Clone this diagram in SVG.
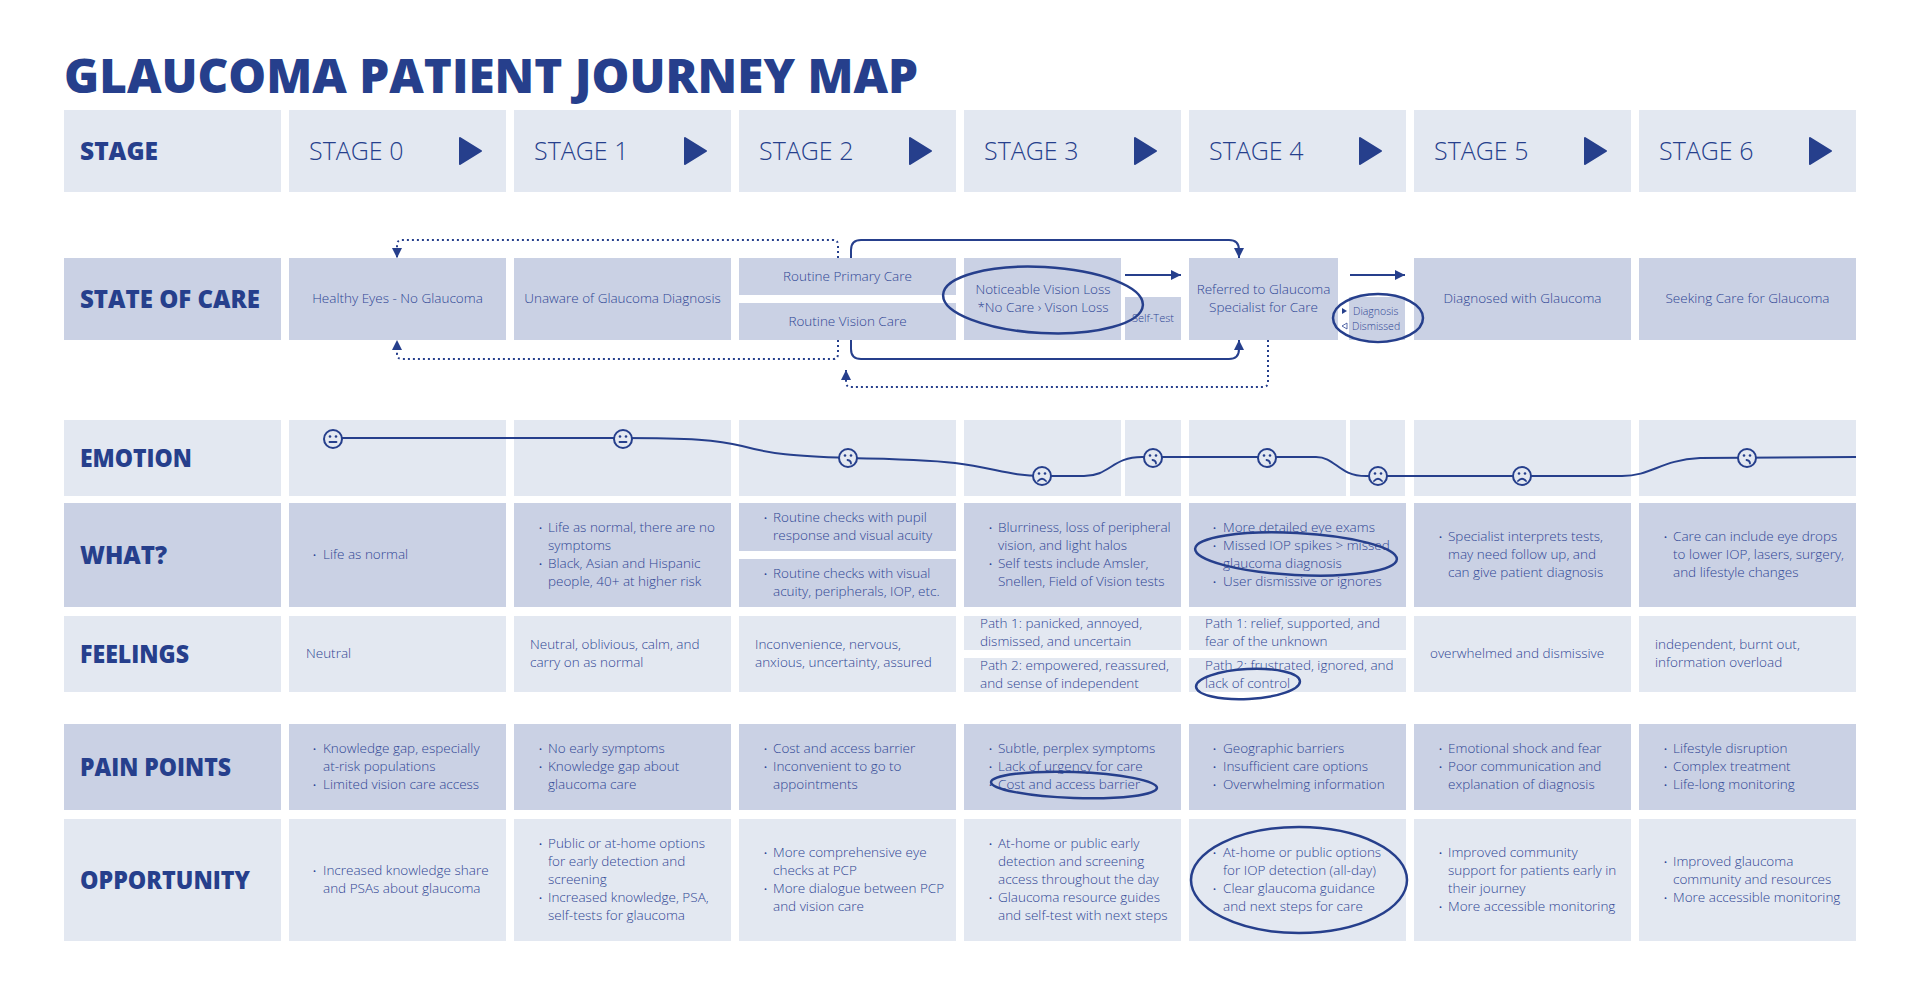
<svg xmlns="http://www.w3.org/2000/svg" width="1920" height="981" viewBox="0 0 1920 981">
<defs>
<style>
.lt{fill:#e3e8f1}
.dk{fill:#cad1e4}
.title{font-family:'Open Sans','Liberation Sans',sans-serif;font-weight:800;font-size:48px;fill:#263f8c}
.hd{font-family:'Open Sans','Liberation Sans',sans-serif;font-weight:800;font-size:24px;fill:#263f8c}
.st{font-family:'Open Sans','Liberation Sans',sans-serif;font-weight:300;font-size:25px;fill:#263f8c}
.tx{font-family:'Open Sans','Liberation Sans',sans-serif;font-weight:300;font-size:13.5px;fill:#2f4694}
.c{text-anchor:middle}
.sm{font-size:11px}
.xs{font-size:10.5px}
.bu{font-family:'Open Sans','Liberation Sans',sans-serif;font-size:8px;fill:#2f4694}
.tri{fill:#263f8c;stroke:#263f8c;stroke-width:2;stroke-linejoin:round}
.ln{fill:none;stroke:#263f8c;stroke-width:2}
.dot{stroke-dasharray:2 3}
.oval{fill:none;stroke:#263f8c;stroke-width:2.5}
.face circle.h{fill:#e3e8f1;stroke:#263f8c;stroke-width:2}
.face circle.e{fill:#263f8c}
.face path{fill:none;stroke:#263f8c;stroke-width:1.8;stroke-linecap:round}
</style>
<marker id="ah" viewBox="0 0 10 10" refX="10" refY="5" markerWidth="10" markerHeight="11" markerUnits="userSpaceOnUse" orient="auto">
<path d="M0 0 L10 5 L0 10 Z" fill="#263f8c"/>
</marker>
<g id="fN" class="face"><circle class="h" r="9"/><circle class="e" cx="-3" cy="-2.5" r="1.3"/><circle class="e" cx="3" cy="-2.5" r="1.3"/><path d="M-3.5 3 H3.5"/></g>
<g id="fS" class="face"><circle class="h" r="9"/><circle class="e" cx="-3" cy="-2.5" r="1.3"/><circle class="e" cx="3" cy="-2.5" r="1.3"/><path d="M-4 5 Q0 0.5 4 5"/></g>
<g id="fC" class="face"><circle class="h" r="9"/><circle class="e" cx="-3" cy="-2.5" r="1.3"/><circle class="e" cx="3" cy="-2.5" r="1.3"/><path d="M-0.5 2 Q3 2.5 3 5.5"/></g>
</defs>
<rect width="1920" height="981" fill="#ffffff"/>

<text class="title" x="64" y="93" textLength="854" lengthAdjust="spacingAndGlyphs">GLAUCOMA PATIENT JOURNEY MAP</text>

<!-- STAGE ROW -->
<g id="row-stage">
<rect class="lt" x="64" y="110" width="217" height="82"/>
<text class="hd" x="80" y="159.5" textLength="78" lengthAdjust="spacingAndGlyphs">STAGE</text>
</g>
<g id="stage0"><rect class="lt" x="289" y="110" width="217" height="82"/><text class="st" x="309" y="160">STAGE 0</text><path class="tri" d="M460 138 L481 151 L460 164 Z"/></g>
<g id="stage1"><rect class="lt" x="514" y="110" width="217" height="82"/><text class="st" x="534" y="160">STAGE 1</text><path class="tri" d="M685 138 L706 151 L685 164 Z"/></g>
<g id="stage2"><rect class="lt" x="739" y="110" width="217" height="82"/><text class="st" x="759" y="160">STAGE 2</text><path class="tri" d="M910 138 L931 151 L910 164 Z"/></g>
<g id="stage3"><rect class="lt" x="964" y="110" width="217" height="82"/><text class="st" x="984" y="160">STAGE 3</text><path class="tri" d="M1135 138 L1156 151 L1135 164 Z"/></g>
<g id="stage4"><rect class="lt" x="1189" y="110" width="217" height="82"/><text class="st" x="1209" y="160">STAGE 4</text><path class="tri" d="M1360 138 L1381 151 L1360 164 Z"/></g>
<g id="stage5"><rect class="lt" x="1414" y="110" width="217" height="82"/><text class="st" x="1434" y="160">STAGE 5</text><path class="tri" d="M1585 138 L1606 151 L1585 164 Z"/></g>
<g id="stage6"><rect class="lt" x="1639" y="110" width="217" height="82"/><text class="st" x="1659" y="160">STAGE 6</text><path class="tri" d="M1810 138 L1831 151 L1810 164 Z"/></g>

<!-- STATE OF CARE ROW -->
<g id="row-care">
<rect class="dk" x="64" y="258" width="217" height="82"/>
<text class="hd" x="80" y="307.5" textLength="180" lengthAdjust="spacingAndGlyphs">STATE OF CARE</text>
</g>
<g id="care-healthy"><rect class="dk" x="289" y="258" width="217" height="82"/><text class="tx c" x="397.5" y="303">Healthy Eyes - No Glaucoma</text></g>
<g id="care-unaware"><rect class="dk" x="514" y="258" width="217" height="82"/><text class="tx c" x="622.5" y="303">Unaware of Glaucoma Diagnosis</text></g>
<g id="care-primary"><rect class="dk" x="739" y="258" width="217" height="37"/><text class="tx c" x="847.5" y="281">Routine Primary Care</text></g>
<g id="care-vision"><rect class="dk" x="739" y="303" width="217" height="37"/><text class="tx c" x="847.5" y="326">Routine Vision Care</text></g>
<g id="care-noticeable"><rect class="dk" x="964" y="258" width="157" height="82"/><text class="tx c" x="1043" y="294">Noticeable Vision Loss</text><text class="tx c" x="1043" y="312">*No Care › Vison Loss</text></g>
<g id="care-selftest"><rect class="dk" x="1125" y="297" width="56" height="43"/><text class="tx c sm" x="1153" y="322">Self-Test</text></g>
<g id="care-referred"><rect class="dk" x="1189" y="258" width="149" height="82"/><text class="tx c" x="1263.5" y="294">Referred to Glaucoma</text><text class="tx c" x="1263.5" y="312">Specialist for Care</text></g>
<g id="care-dismissed"><rect class="dk" x="1349" y="297" width="56" height="43"/>
<path d="M1342 308 L1347 311 L1342 314 Z" fill="#263f8c"/>
<path d="M1347 323 L1342 326 L1347 329 Z" fill="none" stroke="#2f4694" stroke-width="0.8"/>
<text class="tx xs" x="1353" y="314.5">Diagnosis</text><text class="tx xs" x="1352" y="329.5">Dismissed</text></g>
<g id="care-diagnosed"><rect class="dk" x="1414" y="258" width="217" height="82"/><text class="tx c" x="1522.5" y="303">Diagnosed with Glaucoma</text></g>
<g id="care-seeking"><rect class="dk" x="1639" y="258" width="217" height="82"/><text class="tx c" x="1747.5" y="303">Seeking Care for Glaucoma</text></g>

<!-- CONNECTORS -->
<g id="connectors">
<path class="ln" d="M851 258 V250 Q851 240 861 240 H1229 Q1239 240 1239 250 V258" marker-end="url(#ah)"/>
<path class="ln" d="M851 340 V349 Q851 359 861 359 H1229 Q1239 359 1239 349 V340" marker-end="url(#ah)"/>
<path class="ln dot" d="M838 258 V245 Q838 240 833 240 H402 Q397 240 397 245 V258" marker-end="url(#ah)"/>
<path class="ln dot" d="M838 340 V354 Q838 359 833 359 H402 Q397 359 397 354 V340" marker-end="url(#ah)"/>
<path class="ln dot" d="M1268 340 V382 Q1268 387 1263 387 H851 Q846 387 846 382 V370" marker-end="url(#ah)"/>
<path class="ln" d="M1125 275 H1181" marker-end="url(#ah)"/>
<path class="ln" d="M1350 275 H1405" marker-end="url(#ah)"/>
</g>

<!-- EMOTION ROW -->
<g id="row-emotion">
<rect class="lt" x="64" y="420" width="217" height="76"/>
<text class="hd" x="80" y="466.5" textLength="112" lengthAdjust="spacingAndGlyphs">EMOTION</text>
<rect class="lt" x="289" y="420" width="217" height="76"/>
<rect class="lt" x="514" y="420" width="217" height="76"/>
<rect class="lt" x="739" y="420" width="217" height="76"/>
<rect class="lt" x="964" y="420" width="157" height="76"/>
<rect class="lt" x="1125" y="420" width="56" height="76"/>
<rect class="lt" x="1189" y="420" width="157" height="76"/>
<rect class="lt" x="1350" y="420" width="55" height="76"/>
<rect class="lt" x="1414" y="420" width="217" height="76"/>
<rect class="lt" x="1639" y="420" width="217" height="76"/>
</g>
<g id="emotion-line">
<path class="ln" d="M333 438 L623 438 C690 438 718 440 742 446 C772 454 792 456 848 458 C900 459 930 460 955 463 C995 468 1010 476 1042 476 L1084 476 C1110 476 1112 457 1142 457 L1316 457 C1336 457 1338 476 1366 476 L1622 476 C1652 476 1660 460 1700 458 L1856 457"/>
<use href="#fN" x="333" y="439"/>
<use href="#fN" x="623" y="439"/>
<use href="#fC" x="848" y="458"/>
<use href="#fS" x="1042" y="476"/>
<use href="#fC" x="1153" y="458"/>
<use href="#fC" x="1267" y="458"/>
<use href="#fS" x="1378" y="476"/>
<use href="#fS" x="1522" y="476"/>
<use href="#fC" x="1747" y="458"/>
</g>

<!-- WHAT ROW -->
<g id="row-what">
<rect class="dk" x="64" y="503" width="217" height="104"/>
<text class="hd" x="80" y="563.5" textLength="87" lengthAdjust="spacingAndGlyphs">WHAT?</text>
</g>
<g id="what-0"><rect class="dk" x="289" y="503" width="217" height="104"/>
<text class="bu" x="313" y="558">•</text><text class="tx" x="323" y="559">Life as normal</text></g>
<g id="what-1"><rect class="dk" x="514" y="503" width="217" height="104"/>
<text class="bu" x="539" y="531">•</text><text class="tx" x="548" y="532">Life as normal, there are no</text>
<text class="tx" x="548" y="550">symptoms</text>
<text class="bu" x="539" y="567">•</text><text class="tx" x="548" y="568">Black, Asian and Hispanic</text>
<text class="tx" x="548" y="586">people, 40+ at higher risk</text></g>
<g id="what-2a"><rect class="dk" x="739" y="503" width="217" height="48"/>
<text class="bu" x="764" y="521">•</text><text class="tx" x="773" y="522">Routine checks with pupil</text>
<text class="tx" x="773" y="540">response and visual acuity</text></g>
<g id="what-2b"><rect class="dk" x="739" y="559" width="217" height="48"/>
<text class="bu" x="764" y="577">•</text><text class="tx" x="773" y="578">Routine checks with visual</text>
<text class="tx" x="773" y="596">acuity, peripherals, IOP, etc.</text></g>
<g id="what-3"><rect class="dk" x="964" y="503" width="217" height="104"/>
<text class="bu" x="989" y="531">•</text><text class="tx" x="998" y="532">Blurriness, loss of peripheral</text>
<text class="tx" x="998" y="550">vision, and light halos</text>
<text class="bu" x="989" y="567">•</text><text class="tx" x="998" y="568">Self tests include Amsler,</text>
<text class="tx" x="998" y="586">Snellen, Field of Vision tests</text></g>
<g id="what-4"><rect class="dk" x="1189" y="503" width="217" height="104"/>
<text class="bu" x="1213" y="531">•</text><text class="tx" x="1223" y="532">More detailed eye exams</text>
<text class="bu" x="1213" y="549">•</text><text class="tx" x="1223" y="550">Missed IOP spikes &gt; missed</text>
<text class="tx" x="1223" y="568">glaucoma diagnosis</text>
<text class="bu" x="1213" y="585">•</text><text class="tx" x="1223" y="586">User dismissive or ignores</text></g>
<g id="what-5"><rect class="dk" x="1414" y="503" width="217" height="104"/>
<text class="bu" x="1439" y="540">•</text><text class="tx" x="1448" y="541">Specialist interprets tests,</text>
<text class="tx" x="1448" y="559">may need follow up, and</text>
<text class="tx" x="1448" y="577">can give patient diagnosis</text></g>
<g id="what-6"><rect class="dk" x="1639" y="503" width="217" height="104"/>
<text class="bu" x="1664" y="540">•</text><text class="tx" x="1673" y="541">Care can include eye drops</text>
<text class="tx" x="1673" y="559">to lower IOP, lasers, surgery,</text>
<text class="tx" x="1673" y="577">and lifestyle changes</text></g>

<!-- FEELINGS ROW -->
<g id="row-feelings">
<rect class="lt" x="64" y="616" width="217" height="76"/>
<text class="hd" x="80" y="662.5" textLength="109" lengthAdjust="spacingAndGlyphs">FEELINGS</text>
</g>
<g id="feel-0"><rect class="lt" x="289" y="616" width="217" height="76"/><text class="tx" x="306" y="658">Neutral</text></g>
<g id="feel-1"><rect class="lt" x="514" y="616" width="217" height="76"/><text class="tx" x="530" y="649">Neutral, oblivious, calm, and</text><text class="tx" x="530" y="667">carry on as normal</text></g>
<g id="feel-2"><rect class="lt" x="739" y="616" width="217" height="76"/><text class="tx" x="755" y="649">Inconvenience, nervous,</text><text class="tx" x="755" y="667">anxious, uncertainty, assured</text></g>
<g id="feel-3a"><rect class="lt" x="964" y="616" width="217" height="34"/><text class="tx" x="980" y="628">Path 1: panicked, annoyed,</text><text class="tx" x="980" y="646">dismissed, and uncertain</text></g>
<g id="feel-3b"><rect class="lt" x="964" y="658" width="217" height="34"/><text class="tx" x="980" y="670">Path 2: empowered, reassured,</text><text class="tx" x="980" y="688">and sense of independent</text></g>
<g id="feel-4a"><rect class="lt" x="1189" y="616" width="217" height="34"/><text class="tx" x="1205" y="628">Path 1: relief, supported, and</text><text class="tx" x="1205" y="646">fear of the unknown</text></g>
<g id="feel-4b"><rect class="lt" x="1189" y="658" width="217" height="34"/><text class="tx" x="1205" y="670">Path 2: frustrated, ignored, and</text><text class="tx" x="1205" y="688">lack of control</text></g>
<g id="feel-5"><rect class="lt" x="1414" y="616" width="217" height="76"/><text class="tx" x="1430" y="658">overwhelmed and dismissive</text></g>
<g id="feel-6"><rect class="lt" x="1639" y="616" width="217" height="76"/><text class="tx" x="1655" y="649">independent, burnt out,</text><text class="tx" x="1655" y="667">information overload</text></g>

<!-- PAIN POINTS ROW -->
<g id="row-pain">
<rect class="dk" x="64" y="724" width="217" height="86"/>
<text class="hd" x="80" y="775.5" textLength="151" lengthAdjust="spacingAndGlyphs">PAIN POINTS</text>
</g>
<g id="pain-0"><rect class="dk" x="289" y="724" width="217" height="86"/>
<text class="bu" x="313" y="752">•</text><text class="tx" x="323" y="753">Knowledge gap, especially</text>
<text class="tx" x="323" y="771">at-risk populations</text>
<text class="bu" x="313" y="788">•</text><text class="tx" x="323" y="789">Limited vision care access</text></g>
<g id="pain-1"><rect class="dk" x="514" y="724" width="217" height="86"/>
<text class="bu" x="539" y="752">•</text><text class="tx" x="548" y="753">No early symptoms</text>
<text class="bu" x="539" y="770">•</text><text class="tx" x="548" y="771">Knowledge gap about</text>
<text class="tx" x="548" y="789">glaucoma care</text></g>
<g id="pain-2"><rect class="dk" x="739" y="724" width="217" height="86"/>
<text class="bu" x="764" y="752">•</text><text class="tx" x="773" y="753">Cost and access barrier</text>
<text class="bu" x="764" y="770">•</text><text class="tx" x="773" y="771">Inconvenient to go to</text>
<text class="tx" x="773" y="789">appointments</text></g>
<g id="pain-3"><rect class="dk" x="964" y="724" width="217" height="86"/>
<text class="bu" x="989" y="752">•</text><text class="tx" x="998" y="753">Subtle, perplex symptoms</text>
<text class="bu" x="989" y="770">•</text><text class="tx" x="998" y="771">Lack of urgency for care</text>
<text class="bu" x="989" y="788">•</text><text class="tx" x="998" y="789">Cost and access barrier</text></g>
<g id="pain-4"><rect class="dk" x="1189" y="724" width="217" height="86"/>
<text class="bu" x="1213" y="752">•</text><text class="tx" x="1223" y="753">Geographic barriers</text>
<text class="bu" x="1213" y="770">•</text><text class="tx" x="1223" y="771">Insufficient care options</text>
<text class="bu" x="1213" y="788">•</text><text class="tx" x="1223" y="789">Overwhelming information</text></g>
<g id="pain-5"><rect class="dk" x="1414" y="724" width="217" height="86"/>
<text class="bu" x="1439" y="752">•</text><text class="tx" x="1448" y="753">Emotional shock and fear</text>
<text class="bu" x="1439" y="770">•</text><text class="tx" x="1448" y="771">Poor communication and</text>
<text class="tx" x="1448" y="789">explanation of diagnosis</text></g>
<g id="pain-6"><rect class="dk" x="1639" y="724" width="217" height="86"/>
<text class="bu" x="1664" y="752">•</text><text class="tx" x="1673" y="753">Lifestyle disruption</text>
<text class="bu" x="1664" y="770">•</text><text class="tx" x="1673" y="771">Complex treatment</text>
<text class="bu" x="1664" y="788">•</text><text class="tx" x="1673" y="789">Life-long monitoring</text></g>

<!-- OPPORTUNITY ROW -->
<g id="row-opp">
<rect class="lt" x="64" y="819" width="217" height="122"/>
<text class="hd" x="80" y="888.5" textLength="170" lengthAdjust="spacingAndGlyphs">OPPORTUNITY</text>
</g>
<g id="opp-0"><rect class="lt" x="289" y="819" width="217" height="122"/>
<text class="bu" x="313" y="874">•</text><text class="tx" x="323" y="875">Increased knowledge share</text>
<text class="tx" x="323" y="893">and PSAs about glaucoma</text></g>
<g id="opp-1"><rect class="lt" x="514" y="819" width="217" height="122"/>
<text class="bu" x="539" y="847">•</text><text class="tx" x="548" y="848">Public or at-home options</text>
<text class="tx" x="548" y="866">for early detection and</text>
<text class="tx" x="548" y="884">screening</text>
<text class="bu" x="539" y="901">•</text><text class="tx" x="548" y="902">Increased knowledge, PSA,</text>
<text class="tx" x="548" y="920">self-tests for glaucoma</text></g>
<g id="opp-2"><rect class="lt" x="739" y="819" width="217" height="122"/>
<text class="bu" x="764" y="856">•</text><text class="tx" x="773" y="857">More comprehensive eye</text>
<text class="tx" x="773" y="875">checks at PCP</text>
<text class="bu" x="764" y="892">•</text><text class="tx" x="773" y="893">More dialogue between PCP</text>
<text class="tx" x="773" y="911">and vision care</text></g>
<g id="opp-3"><rect class="lt" x="964" y="819" width="217" height="122"/>
<text class="bu" x="989" y="847">•</text><text class="tx" x="998" y="848">At-home or public early</text>
<text class="tx" x="998" y="866">detection and screening</text>
<text class="tx" x="998" y="884">access throughout the day</text>
<text class="bu" x="989" y="901">•</text><text class="tx" x="998" y="902">Glaucoma resource guides</text>
<text class="tx" x="998" y="920">and self-test with next steps</text></g>
<g id="opp-4"><rect class="lt" x="1189" y="819" width="217" height="122"/>
<text class="bu" x="1213" y="856">•</text><text class="tx" x="1223" y="857">At-home or public options</text>
<text class="tx" x="1223" y="875">for IOP detection (all-day)</text>
<text class="bu" x="1213" y="892">•</text><text class="tx" x="1223" y="893">Clear glaucoma guidance</text>
<text class="tx" x="1223" y="911">and next steps for care</text></g>
<g id="opp-5"><rect class="lt" x="1414" y="819" width="217" height="122"/>
<text class="bu" x="1439" y="856">•</text><text class="tx" x="1448" y="857">Improved community</text>
<text class="tx" x="1448" y="875">support for patients early in</text>
<text class="tx" x="1448" y="893">their journey</text>
<text class="bu" x="1439" y="910">•</text><text class="tx" x="1448" y="911">More accessible monitoring</text></g>
<g id="opp-6"><rect class="lt" x="1639" y="819" width="217" height="122"/>
<text class="bu" x="1664" y="865">•</text><text class="tx" x="1673" y="866">Improved glaucoma</text>
<text class="tx" x="1673" y="884">community and resources</text>
<text class="bu" x="1664" y="901">•</text><text class="tx" x="1673" y="902">More accessible monitoring</text></g>

<!-- HAND-DRAWN HIGHLIGHT OVALS -->
<g id="highlights">
<ellipse class="oval" cx="1043" cy="300" rx="100" ry="33" transform="rotate(3 1043 300)"/>
<ellipse class="oval" cx="1378" cy="318" rx="45" ry="24"/>
<ellipse class="oval" cx="1296" cy="554" rx="101" ry="21" transform="rotate(3 1296 554)"/>
<ellipse class="oval" cx="1248" cy="684" rx="52" ry="15" transform="rotate(-3 1248 684)"/>
<ellipse class="oval" cx="1074" cy="785" rx="83" ry="13" transform="rotate(2 1074 785)"/>
<ellipse class="oval" cx="1299" cy="880" rx="108" ry="53"/>
</g>
</svg>
